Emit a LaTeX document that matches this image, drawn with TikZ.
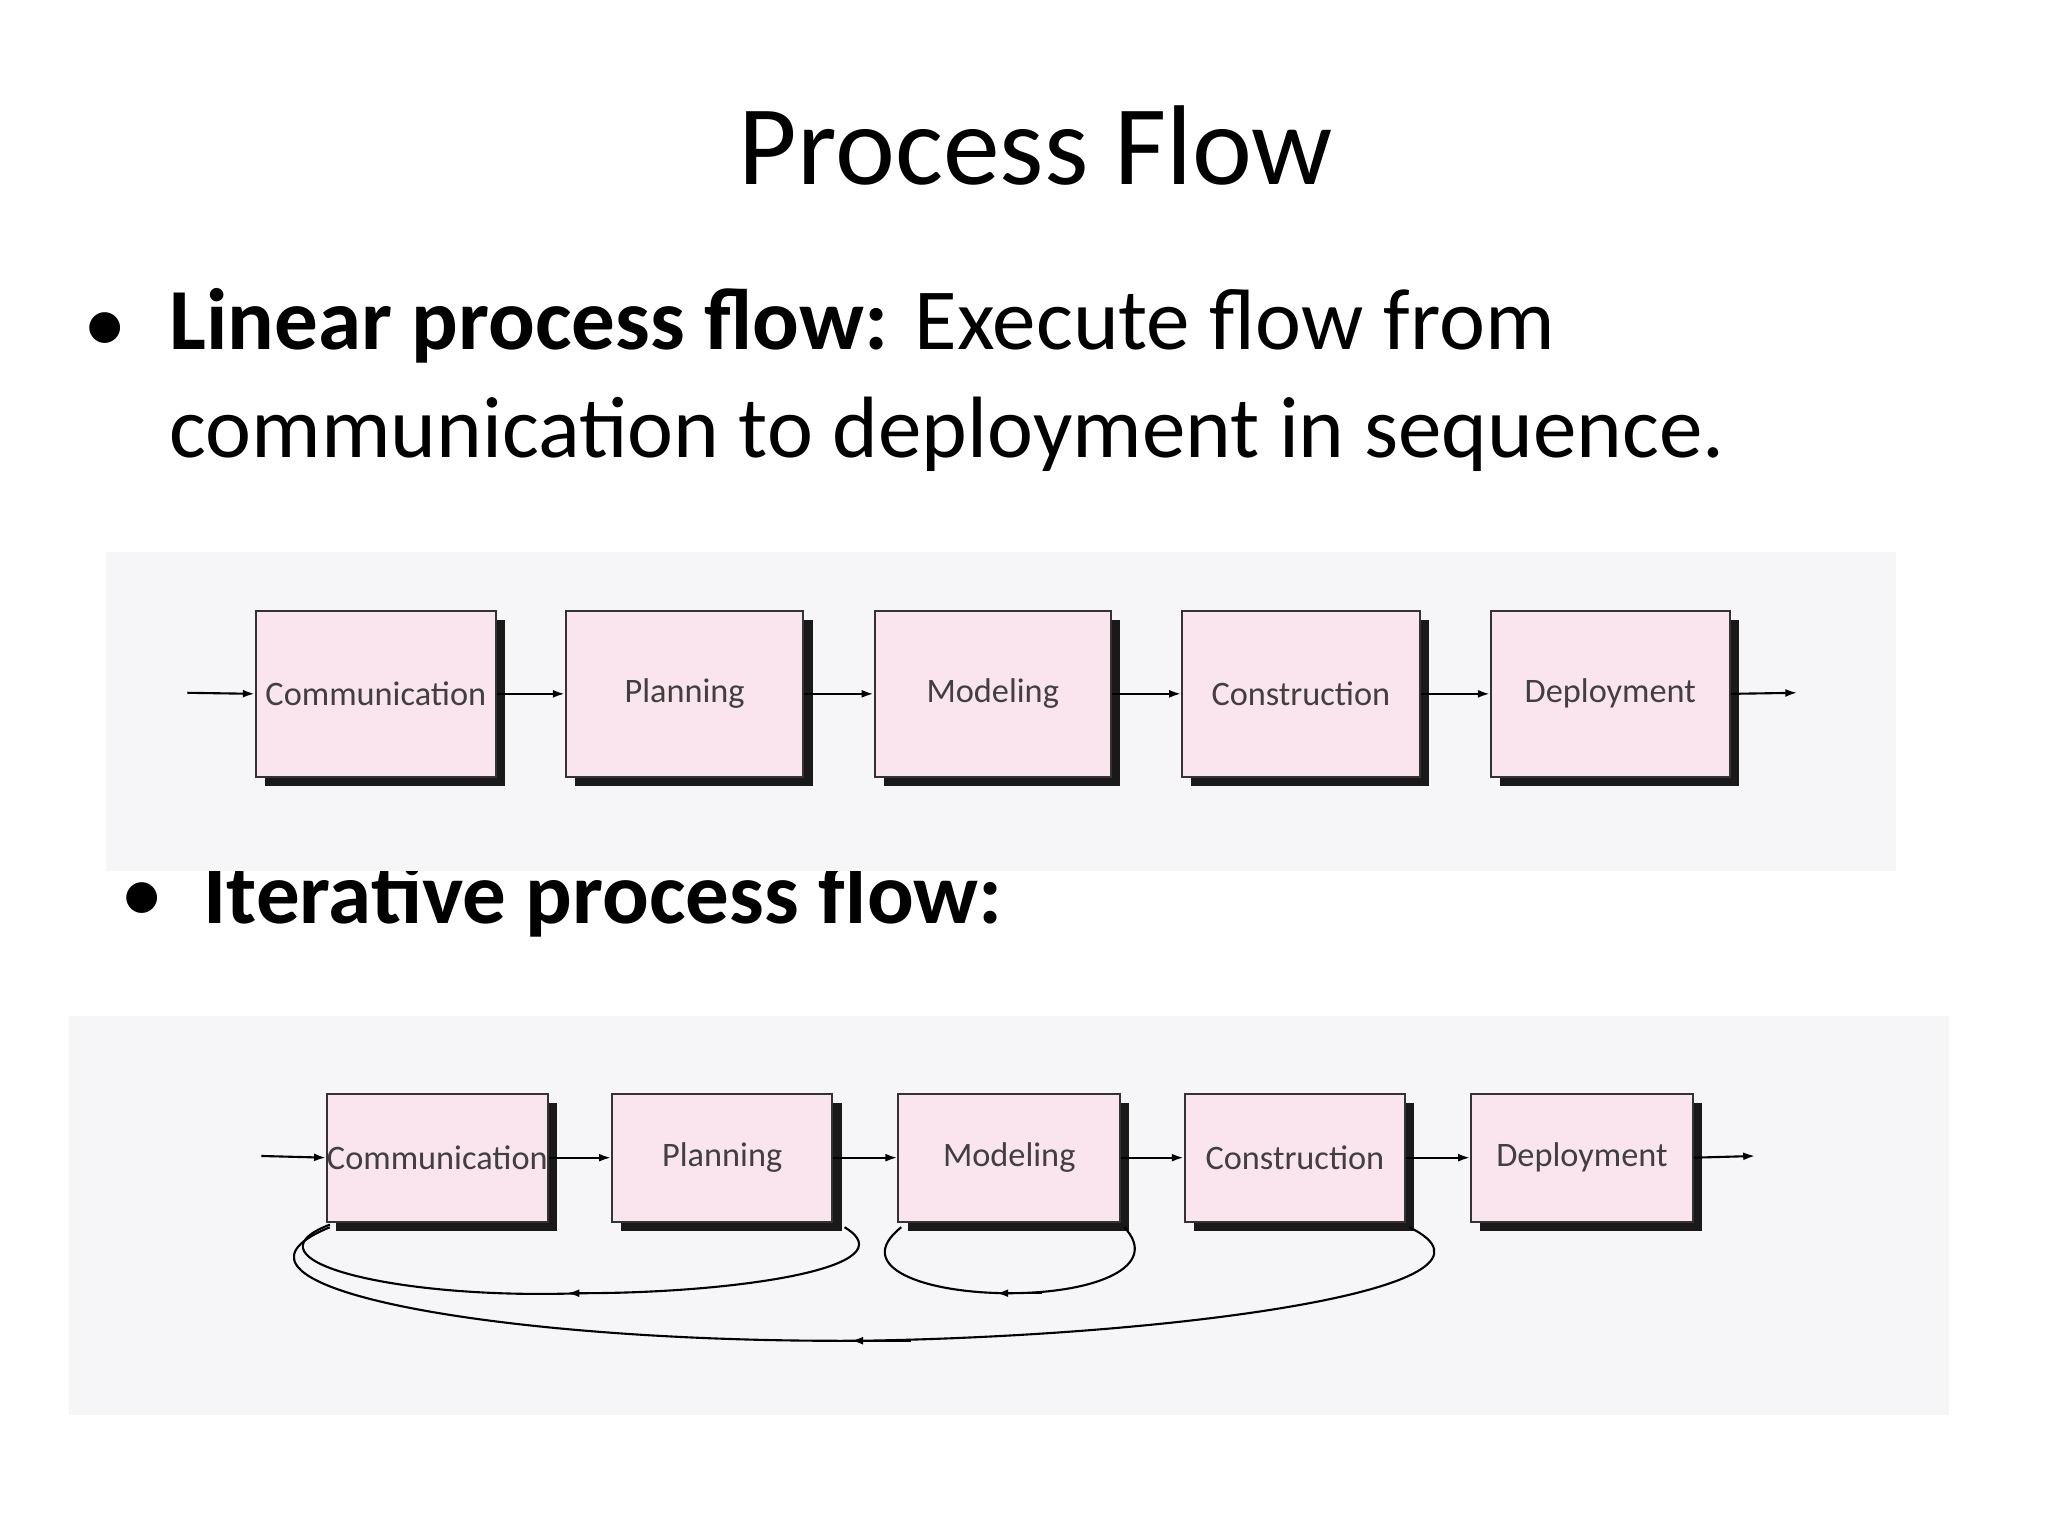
\documentclass[tikz,border=0pt]{standalone}
\usepackage{fontspec}
\setmainfont{Carlito}
\usetikzlibrary{shadows,arrows.meta}
\definecolor{boxpink}{RGB}{250,228,238}
\definecolor{bggray}{RGB}{246,246,248}
\tikzset{
stage/.style={draw=black!80,line width=1.6pt,fill=boxpink,minimum height=#1,anchor=north west,inner sep=0pt,
  font=\fontsize{26}{26}\selectfont,text=black!75,
  drop shadow={shadow xshift=7pt,shadow yshift=-7pt,fill=black!90,opacity=1}},
flow/.style={line width=1.6pt,-{Latex[length=9pt,width=6pt]}},
back/.style={line width=1.6pt},
bigtext/.style={font=\fontsize{66}{82}\selectfont,inner sep=0pt},
every picture/.style={line width=0.75pt}}
\begin{document}
\begin{tikzpicture}[x=1pt,y=1pt,yscale=-1]
\useasboundingbox (0,0) rectangle (1552,1164);
\fill[white] (0,0) rectangle (1552,1164);

%title and bullets
\node (title) at (785,110) {\fontsize{86}{86}\selectfont Process Flow};
\node[bigtext,anchor=center] (b1) at (80,252) {\textbullet};
\node[bigtext,anchor=north west,align=left] (t1) at (128,218) {\textbf{Linear process flow:} Execute flow from\\communication to deployment in sequence.};
\node[bigtext,anchor=center] (b2) at (108,684) {\textbullet};
\node[bigtext,anchor=west] (t2) at (154,682) {\textbf{Iterative process flow:}};

%linear
\fill[bggray] (80,418) rectangle (1437,660);
\node[stage=126pt,minimum width=182pt] (lc) at (193,462) {Communication};
\node[stage=126pt,minimum width=180pt] (lp) at (428,462) {Planning};
\node[stage=126pt,minimum width=179pt] (lm) at (662,462) {Modeling};
\node[stage=126pt,minimum width=180pt] (lk) at (895,462) {Construction};
\node[stage=126pt,minimum width=181pt] (ld) at (1129,462) {Deployment};
\coordinate (lin) at (142,525);
\coordinate (lout) at (1362,525);
\draw[flow] (lin) -- (lc.west);
\draw[flow] (lc.east) -- (lp.west);
\draw[flow] (lp.east) -- (lm.west);
\draw[flow] (lm.east) -- (lk.west);
\draw[flow] (lk.east) -- (ld.west);
\draw[flow] (ld.east) -- (lout);

%iterative
\fill[bggray] (52,770) rectangle (1477,1072);
\node[stage=97pt,minimum width=166pt] (ic) at (247,828) {Communication};
\node[stage=97pt,minimum width=167pt] (ip) at (463,828) {Planning};
\node[stage=97pt,minimum width=168pt] (im) at (680,828) {Modeling};
\node[stage=97pt,minimum width=167pt] (ik) at (897,828) {Construction};
\node[stage=97pt,minimum width=168pt] (id) at (1114,828) {Deployment};
\coordinate (iin) at (198,876);
\coordinate (iout) at (1330,876);
\draw[flow] (iin) -- (ic.west);
\draw[flow] (ic.east) -- (ip.west);
\draw[flow] (ip.east) -- (im.west);
\draw[flow] (im.east) -- (ik.west);
\draw[flow] (ik.east) -- (id.west);
\draw[flow] (id.east) -- (iout);

%feedback loops
\coordinate (a1) at (250,928);
\coordinate (a2) at (440,980);
\coordinate (a3) at (640,930);
\draw[back] (a3) .. controls (690,960) and (560,980) .. (a2) .. controls (300,985) and (180,955) .. (a1);
\draw[flow] (470,980) -- (430,980);
\coordinate (m1) at (683,930);
\coordinate (m2) at (765,980);
\coordinate (m3) at (852,930);
\draw[back] (m3) .. controls (880,960) and (830,980) .. (m2) .. controls (700,980) and (645,960) .. (m1);
\draw[flow] (790,980) -- (755,980);
\coordinate (g1) at (250,930);
\coordinate (g2) at (655,1016);
\coordinate (g3) at (1068,930);
\draw[back] (g3) .. controls (1160,975) and (900,1012) .. (g2) .. controls (380,1018) and (140,975) .. (g1);
\draw[flow] (690,1016) -- (645,1016);
\end{tikzpicture}
\end{document}
